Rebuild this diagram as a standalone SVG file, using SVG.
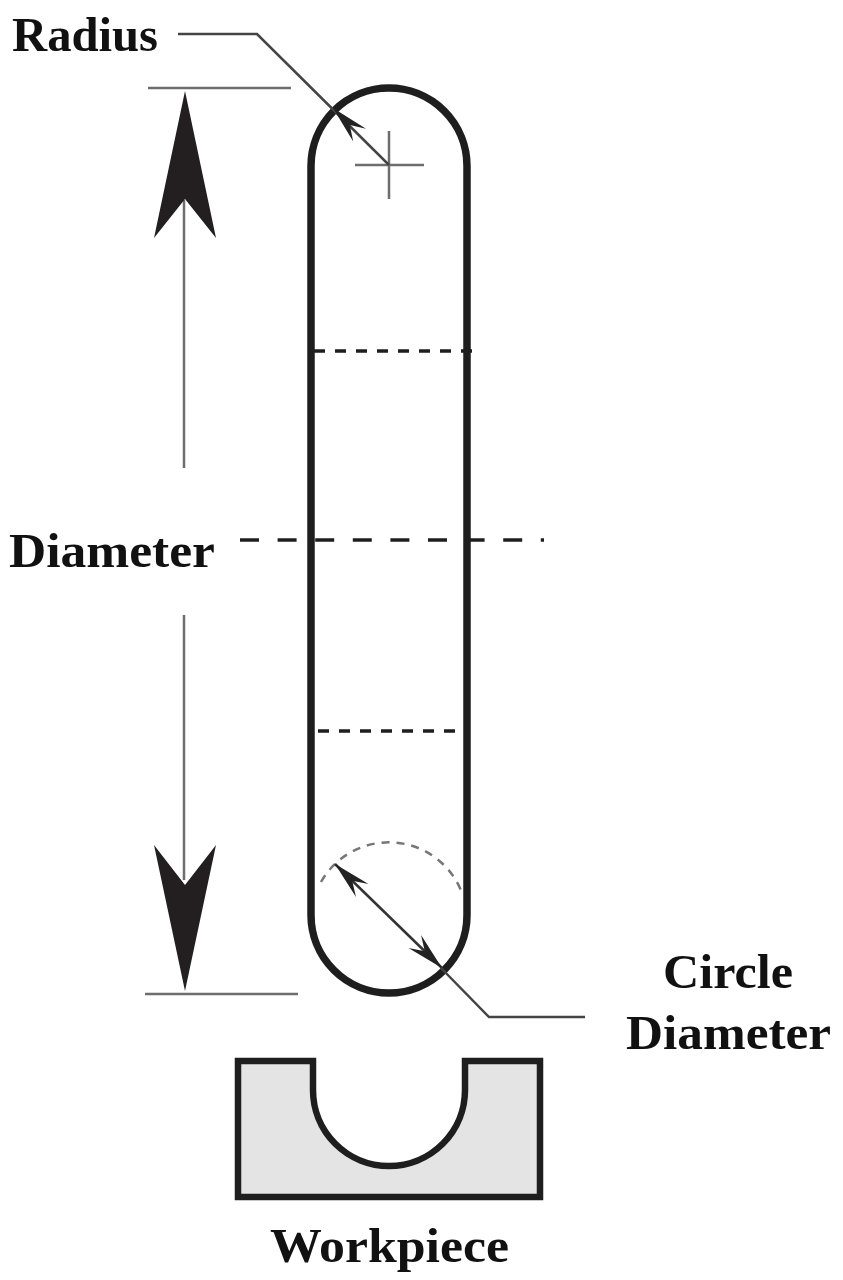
<svg xmlns="http://www.w3.org/2000/svg" width="843" height="1280" viewBox="0 0 843 1280">
<style>
.lbl{font-family:"Liberation Serif",serif;font-weight:700;font-size:48px;fill:#111}
.thin{fill:none;stroke:#6e6e6e;stroke-width:2.5}
.lead{fill:none;stroke:#444;stroke-width:2.5}
.big{fill:#231f20}
.dash{fill:none;stroke:#1e1e1e}
</style>
<defs>
<marker id="barb" viewBox="0 0 38 20" refX="38" refY="10" markerWidth="38" markerHeight="20" markerUnits="userSpaceOnUse" orient="auto-start-reverse">
<path d="M38 10L0 1L14 10L0 19Z" fill="#222"/>
</marker>
</defs>
<rect width="843" height="1280" fill="#fff"/>
<g id="slot">
<path d="M311 166A78 78 0 0 1 467 166V915A78 78 0 0 1 311 915Z" fill="none" stroke="#1e1e1e" stroke-width="7.5"/>
<path d="M355 165H424M389 131V199" class="thin"/>
<path d="M314 351H472" class="dash" stroke-width="3.5" stroke-dasharray="11 10"/>
<path d="M318 731H457" class="dash" stroke-width="3.5" stroke-dasharray="11 10"/>
<path d="M240 540H544" class="dash" stroke-width="3.5" stroke-dasharray="19 18.6"/>
<path d="M321 882A78 78 0 0 1 462 893" fill="none" stroke="#777" stroke-width="2.5" stroke-dasharray="8 7"/>
</g>
<g id="workpiece">
<path d="M238 1061H313V1090A76 76 0 0 0 465 1090V1061H540V1197H238Z" fill="#e4e4e4" stroke="#1e1e1e" stroke-width="6.5"/>
</g>
<g id="connectors">
<path d="M178 34H257L389 165" class="lead"/>
<path d="M389 165L333 108" fill="none" stroke="none" marker-end="url(#barb)"/>
<path d="M335 864L442 968" fill="none" stroke="#333" stroke-width="2.5" marker-start="url(#barb)" marker-end="url(#barb)"/>
<path d="M441 968L489 1017H585" class="lead"/>
<path d="M148 88H291" class="thin"/>
<path d="M145 994H298" class="thin"/>
<path d="M184 200V468" class="thin"/>
<path d="M184 615V880" class="thin"/>
<path class="big" d="M185 91L216 238L185 199L154 238Z"/>
<path class="big" d="M185 991L154 845L185 885L216 845Z"/>
</g>
<g id="labels">
<text class="lbl" x="12" y="51" textLength="146" lengthAdjust="spacingAndGlyphs">Radius</text>
<text class="lbl" x="9" y="567" textLength="206" lengthAdjust="spacingAndGlyphs">Diameter</text>
<text class="lbl" x="663" y="988" textLength="130" lengthAdjust="spacingAndGlyphs">Circle</text>
<text class="lbl" x="626" y="1049" textLength="205" lengthAdjust="spacingAndGlyphs">Diameter</text>
<text class="lbl" x="270" y="1262" textLength="239" lengthAdjust="spacingAndGlyphs">Workpiece</text>
</g>
</svg>
